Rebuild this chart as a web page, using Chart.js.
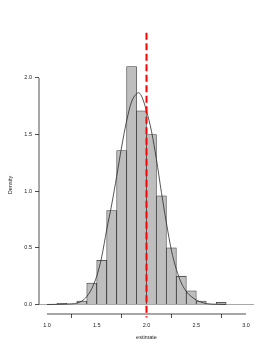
<!DOCTYPE html>
<html>
<head>
<meta charset="utf-8">
<script src="https://cdn.jsdelivr.net/npm/chart.js@4"></script>
<style>
  body { margin: 0; background: #fff; }
</style>
</head>
<body>
<canvas id="myChart" width="274" height="355"></canvas>
<script>
// histogram bins (left edge of each 0.1 wide bin) and density heights
const binStart = [1.1, 1.2, 1.3, 1.4, 1.5, 1.6, 1.7, 1.8, 1.9, 2.0, 2.1, 2.2, 2.3, 2.4, 2.5, 2.6, 2.7];
const binDensity = [0.01, 0.00, 0.03, 0.19, 0.39, 0.83, 1.36, 2.10, 1.71, 1.50, 0.96, 0.50, 0.25, 0.12, 0.03, 0.00, 0.02];
const binWidth = 0.1;

// density curve
const curveX = [1.0, 1.1, 1.2, 1.3, 1.35, 1.4, 1.45, 1.5, 1.55, 1.6, 1.65, 1.7, 1.75, 1.8, 1.85, 1.9, 1.92, 1.95, 2.0, 2.05, 2.1, 2.15, 2.2, 2.25, 2.3, 2.35, 2.4, 2.45, 2.5, 2.55, 2.6, 2.7, 2.8];
const curveY = [0.0, 0.001, 0.004, 0.012, 0.03, 0.07, 0.14, 0.25, 0.42, 0.66, 0.88, 1.13, 1.39, 1.62, 1.79, 1.86, 1.87, 1.84, 1.71, 1.53, 1.28, 0.99, 0.72, 0.48, 0.31, 0.19, 0.115, 0.07, 0.04, 0.02, 0.008, 0.002, 0.0];

// reference value (red dashed line)
const refX = 2.0;
const refLineY = [2.40, -0.115];

// axes
const xRange = [0.92, 3.08];
const yRange = [-0.084, 2.194];
const xTicks = [1.0, 1.5, 2.0, 2.5, 3.0];
const xTickLabels = ["1.0", "1.5", "2.0", "2.5", "3.0"];
const yTicks = [0.0, 0.5, 1.0, 1.5, 2.0];
const yTickLabels = ["0.0", "0.5", "1.0", "1.5", "2.0"];
const xTitle = "estimate";
const yTitle = "Density";

const FONT = { family: "'Liberation Sans', Arial, sans-serif", size: 5.5 };
const INK = "#222";

// R style axis lines, only from first to last tick
const rAxes = {
  id: "rAxes",
  afterDraw(chart) {
    const { ctx, chartArea, scales } = chart;
    ctx.save();
    ctx.strokeStyle = INK;
    ctx.lineWidth = 0.8;
    ctx.beginPath();
    ctx.moveTo(scales.x.getPixelForValue(xTicks[0]), chartArea.bottom);
    ctx.lineTo(scales.x.getPixelForValue(xTicks[xTicks.length - 1]), chartArea.bottom);
    ctx.moveTo(chartArea.left, scales.y.getPixelForValue(yTicks[0]));
    ctx.lineTo(chartArea.left, scales.y.getPixelForValue(yTicks[yTicks.length - 1]));
    ctx.stroke();
    ctx.restore();
  }
};

function data() {
  return {
    datasets: [
      {
        type: "line",
        label: "baseline",
        data: xRange.map((x) => ({ x: x, y: 0 })),
        borderColor: "#a8a8a8",
        borderWidth: 1,
        pointRadius: 0,
        order: 4,
      },
      {
        type: "bar",
        label: "histogram",
        data: binStart.map((b, i) => ({ x: b + binWidth / 2, y: binDensity[i] })),
        backgroundColor: "#bebebe",
        borderColor: "#3a3a3a",
        borderWidth: 0.8,
        borderSkipped: "start",
        barPercentage: 1,
        categoryPercentage: 1,
        order: 3,
      },
      {
        type: "line",
        label: "density",
        data: curveX.map((x, i) => ({ x: x, y: curveY[i] })),
        borderColor: "#2a2a2a",
        borderWidth: 0.8,
        pointRadius: 0,
        cubicInterpolationMode: "monotone",
        order: 2,
      },
      {
        type: "line",
        label: "reference",
        data: refLineY.map((y) => ({ x: refX, y: y })),
        borderColor: "#ff0000",
        borderWidth: 2,
        borderDash: [7, 3.5],
        pointRadius: 0,
        clip: false,
        order: 1,
      },
    ],
  };
}

function config() {
  return {
    type: "line",
    data: data(),
    plugins: [rAxes],
    options: {
      responsive: false,
      animation: false,
      devicePixelRatio: 1,
      layout: { padding: { top: 56, right: 20, left: 0, bottom: 0 } },
      plugins: { legend: { display: false }, tooltip: { enabled: false } },
      scales: {
        x: {
          type: "linear",
          min: xRange[0],
          max: xRange[1],
          offset: false,
          afterBuildTicks: (scale) => { scale.ticks = xTicks.map((v) => ({ value: v })); },
          afterFit: (scale) => { scale.height = 41; },
          grid: { drawOnChartArea: false, drawTicks: true, tickLength: 4, color: INK, lineWidth: 0.8 },
          border: { display: false },
          ticks: {
            color: INK,
            font: FONT,
            padding: 4,
            maxRotation: 0,
            callback: (v) => xTickLabels[xTicks.indexOf(v)],
          },
          title: { display: true, text: xTitle, color: INK, font: FONT, padding: { top: 0, bottom: 14 } },
        },
        y: {
          type: "linear",
          min: yRange[0],
          max: yRange[1],
          afterBuildTicks: (scale) => { scale.ticks = yTicks.map((v) => ({ value: v })); },
          afterFit: (scale) => { scale.width = 39; },
          grid: { drawOnChartArea: false, drawTicks: true, tickLength: 4, color: INK, lineWidth: 0.8 },
          border: { display: false },
          ticks: {
            color: INK,
            font: FONT,
            padding: 3,
            callback: (v) => yTickLabels[yTicks.indexOf(v)],
          },
          title: { display: true, text: yTitle, color: INK, font: FONT, padding: { top: 7, bottom: 0 } },
        },
      },
    },
  };
}

const myChart = new Chart(document.getElementById("myChart"), config());
</script>
</body>
</html>
